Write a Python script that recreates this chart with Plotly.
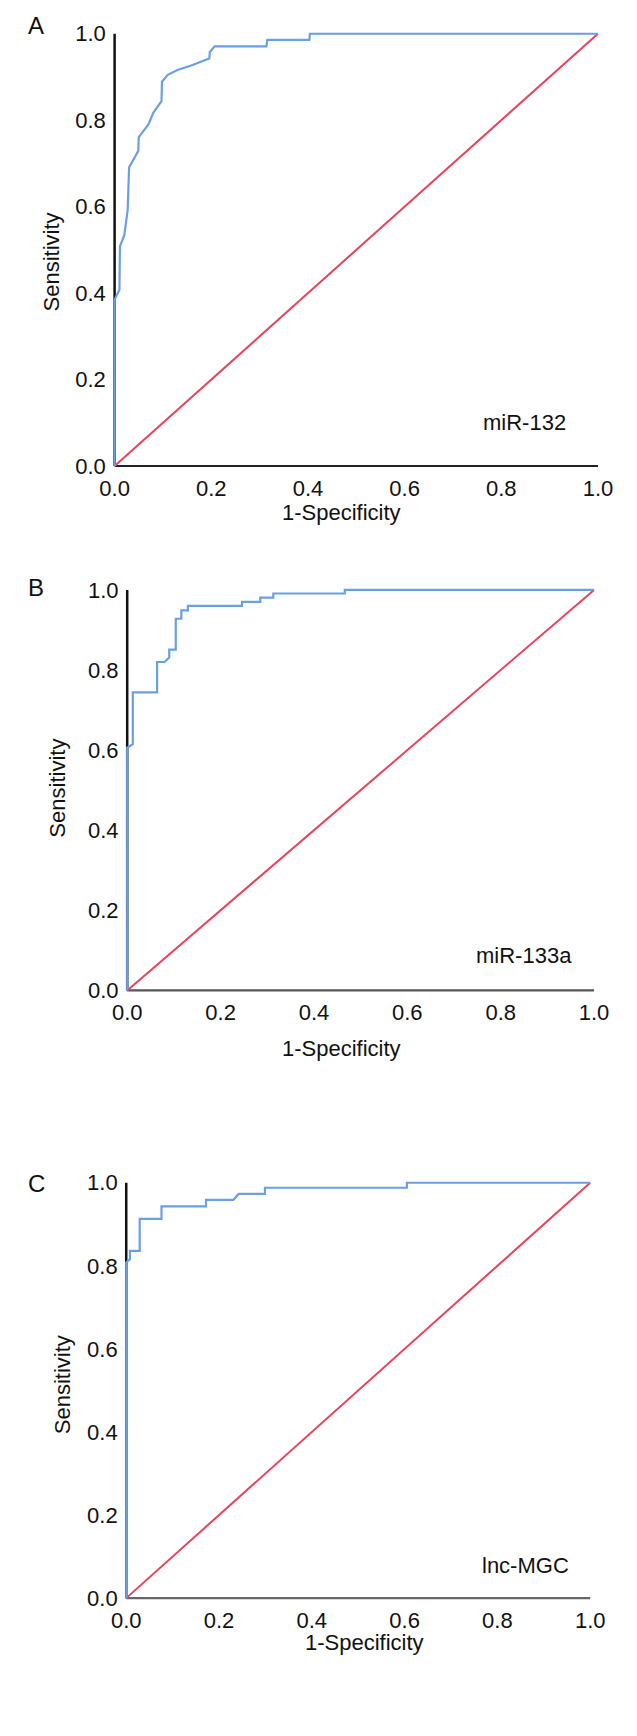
import plotly.graph_objects as go

W, H = 637, 1736

# ---------------- data ----------------
panel_letters = ["A", "B", "C"]
panel_names = ["miR-132", "miR-133a", "lnc-MGC"]

tick_values = [0.0, 0.2, 0.4, 0.6, 0.8, 1.0]
tick_labels = ["0.0", "0.2", "0.4", "0.6", "0.8", "1.0"]

a_fpr = [0, 0, 0.010, 0.011, 0.020, 0.027, 0.030, 0.049, 0.050, 0.070, 0.080, 0.097,
         0.098, 0.110, 0.130, 0.157, 0.196, 0.197, 0.207, 0.314, 0.316, 0.403, 0.404, 1.0]
a_tpr = [0, 0.385, 0.408, 0.508, 0.534, 0.592, 0.691, 0.729, 0.761, 0.790, 0.817, 0.844,
         0.889, 0.905, 0.916, 0.926, 0.943, 0.958, 0.971, 0.971, 0.986, 0.986, 1.0, 1.0]

b_fpr = [0, 0, 0.012, 0.012, 0.064, 0.064, 0.080, 0.090, 0.090, 0.104, 0.104, 0.116,
         0.116, 0.130, 0.130, 0.246, 0.246, 0.285, 0.285, 0.313, 0.313, 0.466, 0.466, 1.0]
b_tpr = [0, 0.606, 0.615, 0.744, 0.744, 0.820, 0.820, 0.831, 0.851, 0.851, 0.928, 0.928,
         0.949, 0.949, 0.960, 0.960, 0.970, 0.970, 0.981, 0.981, 0.991, 0.991, 1.0, 1.0]

c_fpr = [0, 0, 0.008, 0.008, 0.029, 0.029, 0.076, 0.076, 0.172, 0.172, 0.231, 0.242,
         0.299, 0.299, 0.605, 0.605, 1.0]
c_tpr = [0, 0.808, 0.816, 0.836, 0.836, 0.913, 0.913, 0.943, 0.943, 0.959, 0.959, 0.973,
         0.973, 0.988, 0.988, 1.0, 1.0]

ref_x = [0.0, 1.0]
ref_y = [0.0, 1.0]

curves = [(a_fpr, a_tpr), (b_fpr, b_tpr), (c_fpr, c_tpr)]

# ---------------- layout geometry (pixels) ----------------
# (x of data 0, x of data 1, y of data 0, y of data 1)
frames = [(108, 607, 463, 27), (121, 603, 992, 588), (120, 599, 1605, 1186)]
letter_pos = [(27, 19), (27, 586), (27, 1187)]
xtitle_pos = [(342, 510), (342, 1051), (366, 1650)]
ytitle_pos = [(43, 257), (49, 788), (55, 1390)]
name_pos = [(531, 419), (531, 957), (532, 1572)]
xaxis_colors = ["#222222", "#555555", "#666666"]

PAD = 0.012
FONT = "Liberation Sans, Arial, Helvetica, sans-serif"
FS = 22
BLUE = "#6b9fe4"
RED = "#e8435c"


def px(x):
    return x / W


def py(y):
    return 1 - y / H


fig = go.Figure()
layout_axes = {}
annotations = []
shapes = []

for i, ((fx, fy), (x0, x1, y0, y1)) in enumerate(zip(curves, frames)):
    n = "" if i == 0 else str(i + 1)
    xa, ya = "x" + n, "y" + n
    sx = (x1 - x0)
    sy = (y0 - y1)
    xdom = [px(x0 - PAD * sx), px(x1 + PAD * sx)]
    ydom = [py(y0 + PAD * sy), py(y1 - PAD * sy)]

    # axis lines (drawn beneath the data)
    shapes.append(dict(type="line", xref=xa, yref=ya, x0=0, x1=0, y0=0, y1=1,
                       line=dict(color="#111111", width=2.5), layer="below"))
    shapes.append(dict(type="line", xref=xa, yref=ya, x0=0, x1=1, y0=0, y1=0,
                       line=dict(color=xaxis_colors[i], width=2.2), layer="below"))

    fig.add_trace(go.Scatter(x=ref_x, y=ref_y, mode="lines", xaxis=xa, yaxis=ya,
                             line=dict(color=RED, width=2), showlegend=False,
                             hoverinfo="skip"))
    fig.add_trace(go.Scatter(x=fx, y=fy, mode="lines", xaxis=xa, yaxis=ya,
                             line=dict(color=BLUE, width=2.2), showlegend=False))

    layout_axes["xaxis" + n] = dict(
        domain=xdom, range=[-PAD, 1 + PAD], anchor=ya,
        showgrid=False, zeroline=False, showline=False, ticks="",
        tickvals=tick_values, ticktext=tick_labels,
        tickfont=dict(family=FONT, size=FS, color="#111111"),
        ticklabelstandoff=2, fixedrange=True)
    layout_axes["yaxis" + n] = dict(
        domain=ydom, range=[-PAD, 1 + PAD], anchor=xa,
        showgrid=False, zeroline=False, showline=False, ticks="",
        tickvals=tick_values, ticktext=tick_labels,
        tickfont=dict(family=FONT, size=FS, color="#111111"),
        ticklabelstandoff=2, fixedrange=True)

    lx, ly = letter_pos[i]
    annotations.append(dict(text=panel_letters[i], xref="paper", yref="paper",
                            x=px(lx), y=py(ly), showarrow=False,
                            xanchor="center", yanchor="middle",
                            font=dict(family=FONT, size=24, color="#111111")))
    tx, ty = xtitle_pos[i]
    annotations.append(dict(text="1-Specificity", xref="paper", yref="paper",
                            x=px(tx), y=py(ty), showarrow=False,
                            xanchor="center", yanchor="middle",
                            font=dict(family=FONT, size=FS, color="#111111")))
    vx, vy = ytitle_pos[i]
    annotations.append(dict(text="Sensitivity", xref="paper", yref="paper",
                            x=px(vx), y=py(vy), showarrow=False, textangle=-90,
                            xanchor="center", yanchor="middle",
                            font=dict(family=FONT, size=FS, color="#111111")))
    nx, ny = name_pos[i]
    annotations.append(dict(text=panel_names[i], xref="paper", yref="paper",
                            x=px(nx), y=py(ny), showarrow=False,
                            xanchor="center", yanchor="middle",
                            font=dict(family=FONT, size=FS, color="#111111")))

fig.update_layout(
    width=W, height=H,
    margin=dict(l=0, r=0, t=0, b=0),
    paper_bgcolor="white", plot_bgcolor="white",
    showlegend=False,
    shapes=shapes, annotations=annotations,
    **layout_axes,
)

fig.write_html("out.html", config={"displayModeBar": False},
               post_script="document.body.style.margin='0';document.body.style.overflow='hidden';")
